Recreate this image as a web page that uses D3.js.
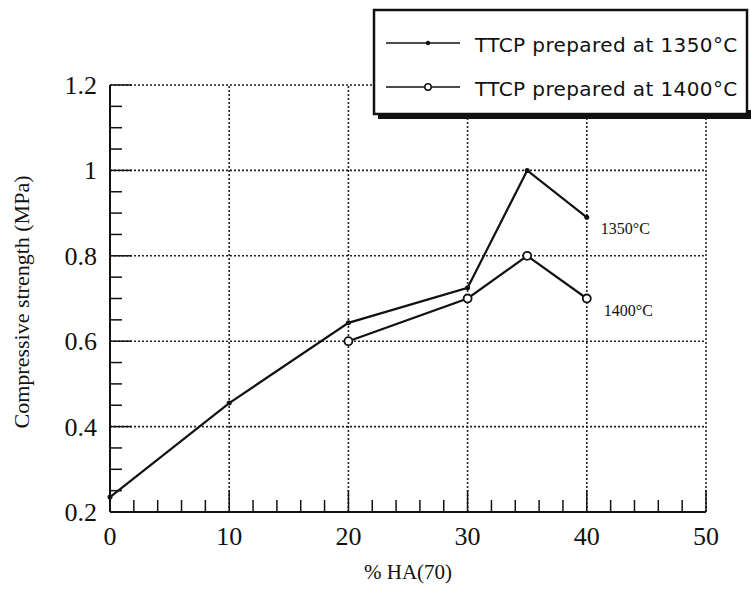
<!DOCTYPE html>
<html>
<head>
<meta charset="utf-8">
<script src="https://cdn.jsdelivr.net/npm/d3@7"></script>
<style>
  body { margin: 0; background: #fff; }
  .tick-label { font-family: "Liberation Serif", "Times New Roman", serif; font-size: 26px; fill: #111; }
  .axis-title { font-family: "Liberation Serif", "Times New Roman", serif; fill: #111; }
  .legend-text { font-family: "DejaVu Sans", sans-serif; font-size: 20px; letter-spacing: 0.4px; fill: #111; }
</style>
</head>
<body>
<svg id="chart"></svg>
<script>
// data
var ha1350 = [0, 10, 20, 30, 35, 40];
var strength1350 = [0.235, 0.455, 0.643, 0.725, 1.0, 0.89];
var ha1400 = [20, 30, 35, 40];
var strength1400 = [0.6, 0.70, 0.80, 0.70];

var xTicks = [0, 10, 20, 30, 40, 50];
var yTicks = [0.2, 0.4, 0.6, 0.8, 1, 1.2];
var yTickLabels = ["0.2", "0.4", "0.6", "0.8", "1", "1.2"];
var legendLabels = ["TTCP prepared at 1350\u00B0C", "TTCP prepared at 1400\u00B0C"];
var endLabels = ["1350\u00B0C", "1400\u00B0C"];

var width = 751, height = 589;
var svg = d3.select("#chart").attr("width", width).attr("height", height);

// plot area edges
var plotLeft = 110, plotRight = 706, plotTop = 85, plotBottom = 512;

var x = d3.scaleLinear().domain([0, 50]).range([plotLeft, plotRight]);
var y = d3.scaleLinear().domain([0.2, 1.2]).range([plotBottom, plotTop]);

// dotted grid
svg.append("g").selectAll("line")
  .data(xTicks.slice(1))
  .enter().append("line")
  .attr("x1", d => x(d)).attr("x2", d => x(d))
  .attr("y1", y(0.2)).attr("y2", y(1.2))
  .attr("stroke", "#222").attr("stroke-width", 1.6)
  .attr("stroke-dasharray", "2,2");

svg.append("g").selectAll("line")
  .data(yTicks.slice(1))
  .enter().append("line")
  .attr("x1", x(0)).attr("x2", x(50))
  .attr("y1", d => y(d)).attr("y2", d => y(d))
  .attr("stroke", "#222").attr("stroke-width", 1.6)
  .attr("stroke-dasharray", "2,2");

// minor ticks (inward)
var xMinor = d3.range(0, 51, 2).filter(d => d % 10 !== 0);
var yMinor = d3.range(0.25, 1.2, 0.05).filter(d => Math.abs(Math.round(d * 5) - d * 5) > 0.01);

svg.append("g").selectAll("line")
  .data(xMinor)
  .enter().append("line")
  .attr("x1", d => x(d)).attr("x2", d => x(d))
  .attr("y1", plotBottom).attr("y2", plotBottom - 12)
  .attr("stroke", "#111").attr("stroke-width", 1.5);

svg.append("g").selectAll("line")
  .data(yMinor)
  .enter().append("line")
  .attr("x1", plotLeft).attr("x2", plotLeft + 12)
  .attr("y1", d => y(d)).attr("y2", d => y(d))
  .attr("stroke", "#111").attr("stroke-width", 1.5);

// major ticks
svg.append("g").selectAll("line")
  .data(xTicks.slice(1))
  .enter().append("line")
  .attr("x1", d => x(d)).attr("x2", d => x(d))
  .attr("y1", plotBottom).attr("y2", plotBottom - 22)
  .attr("stroke", "#111").attr("stroke-width", 1.5);

svg.append("g").selectAll("line")
  .data(yTicks.slice(1))
  .enter().append("line")
  .attr("x1", plotLeft).attr("x2", plotLeft + 22)
  .attr("y1", d => y(d)).attr("y2", d => y(d))
  .attr("stroke", "#111").attr("stroke-width", 1.5);

// axis lines
svg.append("line")
  .attr("x1", plotLeft).attr("x2", plotLeft)
  .attr("y1", plotTop).attr("y2", plotBottom)
  .attr("stroke", "#111").attr("stroke-width", 2);
svg.append("line")
  .attr("x1", plotLeft).attr("x2", plotRight)
  .attr("y1", plotBottom).attr("y2", plotBottom)
  .attr("stroke", "#111").attr("stroke-width", 2);

// tick labels
svg.append("g").selectAll("text")
  .data(xTicks)
  .enter().append("text")
  .attr("class", "tick-label")
  .attr("x", d => x(d))
  .attr("y", plotBottom + 33)
  .attr("text-anchor", "middle")
  .text(d => d);

svg.append("g").selectAll("text")
  .data(yTicks)
  .enter().append("text")
  .attr("class", "tick-label")
  .attr("x", plotLeft - 13)
  .attr("y", d => y(d) + 9)
  .attr("text-anchor", "end")
  .text((d, i) => yTickLabels[i]);

// axis titles
svg.append("text")
  .attr("class", "axis-title")
  .attr("font-size", 21)
  .attr("x", 408)
  .attr("y", 579)
  .attr("text-anchor", "middle")
  .text("% HA(70)");

svg.append("text")
  .attr("class", "axis-title")
  .attr("font-size", 22)
  .attr("transform", "translate(29," + 302 + ") rotate(-90)")
  .attr("text-anchor", "middle")
  .text("Compressive strength (MPa)");

// series
var line = d3.line().x(d => x(d[0])).y(d => y(d[1]));
var pts1350 = ha1350.map((d, i) => [d, strength1350[i]]);
var pts1400 = ha1400.map((d, i) => [d, strength1400[i]]);

svg.append("path")
  .datum(pts1350)
  .attr("d", line)
  .attr("fill", "none").attr("stroke", "#111").attr("stroke-width", 2.2);
svg.append("path")
  .datum(pts1400)
  .attr("d", line)
  .attr("fill", "none").attr("stroke", "#111").attr("stroke-width", 2.2);

svg.append("g").selectAll("circle")
  .data(pts1350)
  .enter().append("circle")
  .attr("cx", d => x(d[0])).attr("cy", d => y(d[1]))
  .attr("r", 2.5).attr("fill", "#111");

svg.append("g").selectAll("circle")
  .data(pts1400)
  .enter().append("circle")
  .attr("cx", d => x(d[0])).attr("cy", d => y(d[1]))
  .attr("r", 4).attr("fill", "#fff").attr("stroke", "#111").attr("stroke-width", 1.8);

// labels at the end of each series
var lastPts = [pts1350[pts1350.length - 1], pts1400[pts1400.length - 1]];
svg.append("g").selectAll("text")
  .data(lastPts)
  .enter().append("text")
  .attr("class", "axis-title")
  .attr("font-size", 16)
  .attr("x", (d, i) => x(d[0]) + 14 + i * 3)
  .attr("y", (d, i) => y(d[1]) + 17)
  .text((d, i) => endLabels[i]);

// legend box
var legend = svg.append("g");
legend.append("rect")
  .attr("x", 378).attr("y", 110)
  .attr("width", 380).attr("height", 9)
  .attr("fill", "#111");
legend.append("rect")
  .attr("x", 374).attr("y", 10)
  .attr("width", 373).attr("height", 104)
  .attr("fill", "#fff").attr("stroke", "#111").attr("stroke-width", 2.5);

var legendRows = [43, 87];
legendLabels.forEach(function(label, i) {
  var ly = legendRows[i];
  legend.append("line")
    .attr("x1", 386).attr("x2", 460)
    .attr("y1", ly).attr("y2", ly)
    .attr("stroke", "#111").attr("stroke-width", 1.5);
  if (i === 0) {
    legend.append("circle").attr("cx", 428).attr("cy", ly).attr("r", 2.2).attr("fill", "#111");
  } else {
    legend.append("circle").attr("cx", 428).attr("cy", ly).attr("r", 3.2)
      .attr("fill", "#fff").attr("stroke", "#111").attr("stroke-width", 1.5);
  }
  legend.append("text")
    .attr("class", "legend-text")
    .attr("x", 475)
    .attr("y", ly + 9)
    .text(label);
});
</script>
</body>
</html>
